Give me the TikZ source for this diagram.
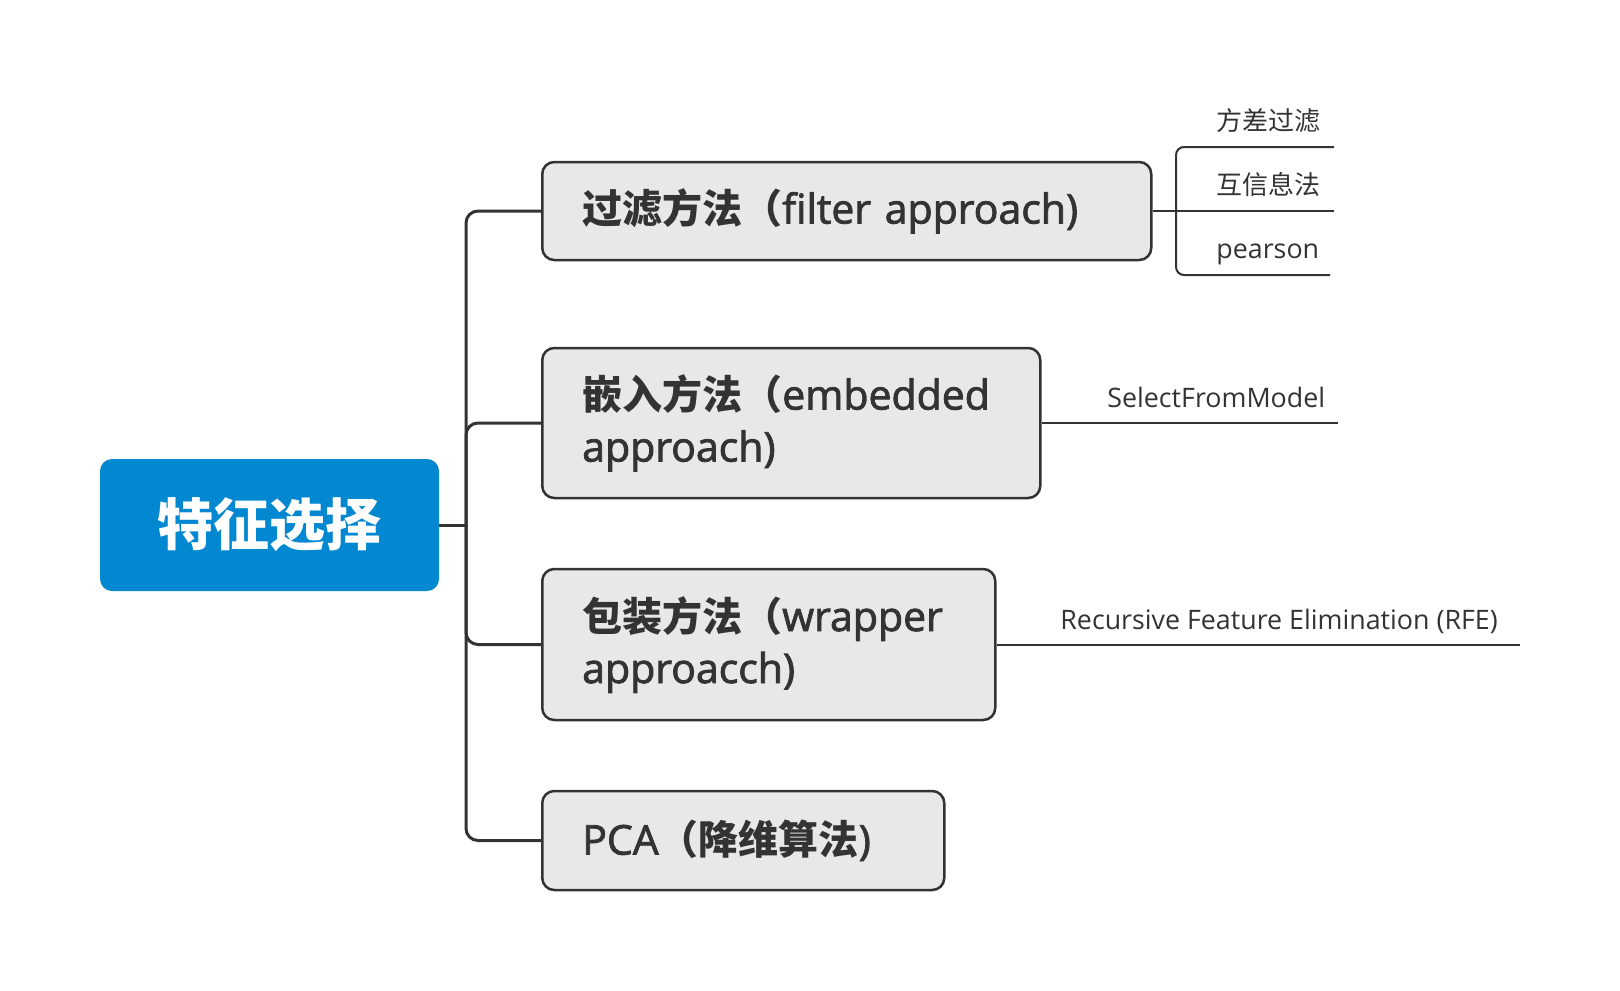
\documentclass[tikz,border=0pt]{standalone}
\usepackage{fontspec}
\setmainfont{Open Sans}
\newfontfamily\cjk{Noto Sans CJK SC}
\newfontfamily\medlatin{Open Sans}[FakeBold=2]
\definecolor{ink}{HTML}{333333}
\definecolor{boxgray}{HTML}{E8E8E8}
\definecolor{rootblue}{HTML}{0288D1}

\begin{document}
\begin{tikzpicture}[x=0.5pt, y=-0.5pt,
  rootbox/.style={fill=rootblue, rounded corners=6pt, minimum width=169.5pt,
    minimum height=66pt, inner sep=0pt, text=white,
    font=\fontsize{28}{32}\selectfont\cjk\bfseries},
  topic/.style={draw=ink, line width=1.25pt, fill=boxgray, rounded corners=6pt,
    anchor=west, align=left, inner xsep=20pt, inner ysep=0pt, text=ink,
    font=\fontsize{20.5}{26}\selectfont\medlatin},
  leaf/.style={anchor=base west, inner sep=0pt, text=ink,
    font=\fontsize{13.4}{15}\selectfont},
  branch/.style={draw=ink, line width=1.5pt, rounded corners=6pt},
  twig/.style={draw=ink, line width=1pt, rounded corners=4pt}]

\useasboundingbox (0,0) rectangle (1620,990);

\coordinate (trunk)    at (466 ,525) ;
\coordinate (fjoin)    at (1176,211) ;
\coordinate (var-end)  at (1334,147) ;
\coordinate (mi-end)   at (1334,211) ;
\coordinate (pear-end) at (1330,275) ;
\coordinate (sfm-end)  at (1338,423) ;
\coordinate (rfe-end)  at (1520,644.5) ;

% root and the four approaches
\node[rootbox] (root) at (269.5,525) {特征选择};
\node[topic, text width=264.5pt, minimum height=49pt] (filter) at (541,211)
  {{\cjk\bfseries\fontsize{20}{26}\selectfont 过滤方法（}filter~approach)};
\node[topic, text width=209pt, minimum height=75pt] (embedded) at (541,423)
  {{\cjk\bfseries\fontsize{20}{26}\selectfont 嵌入方法（}embedded\\approach)};
\node[topic, text width=186.5pt, minimum height=75.5pt] (wrapper) at (541,644.5)
  {{\cjk\bfseries\fontsize{20}{26}\selectfont 包装方法（}wrapper\\approacch)};
\node[topic, text width=161pt, minimum height=49.5pt] (pca) at (541,840.5)
  {PCA{\cjk\bfseries\fontsize{20}{26}\selectfont （降维算法})};

% leaves
\node[leaf] (var)  at (1216,130) {\cjk\fontsize{13}{15}\selectfont 方差过滤};
\node[leaf] (mi)   at (1216,194) {\cjk\fontsize{13}{15}\selectfont 互信息法};
\node[leaf] (pear) at (1216,258) {pearson};
\node[leaf] (sfm)  at (1107,407) {SelectFromModel};
\node[leaf] (rfe)  at (1060,629) {Recursive Feature Elimination (RFE)};

% connectors
\draw[draw=ink, line width=1.5pt] (root.east) -- (trunk);
\draw[branch] (trunk) |- (filter.west);
\draw[branch] (trunk) |- (embedded.west);
\draw[branch] (trunk) |- (wrapper.west);
\draw[branch] (trunk) |- (pca.west);

\draw[twig] (filter.east) -- (mi-end);
\draw[twig] (fjoin) |- (var-end);
\draw[twig] (fjoin) |- (pear-end);
\draw[twig] (embedded.east) -- (sfm-end);
\draw[twig] (wrapper.east) -- (rfe-end);

\end{tikzpicture}
\end{document}
